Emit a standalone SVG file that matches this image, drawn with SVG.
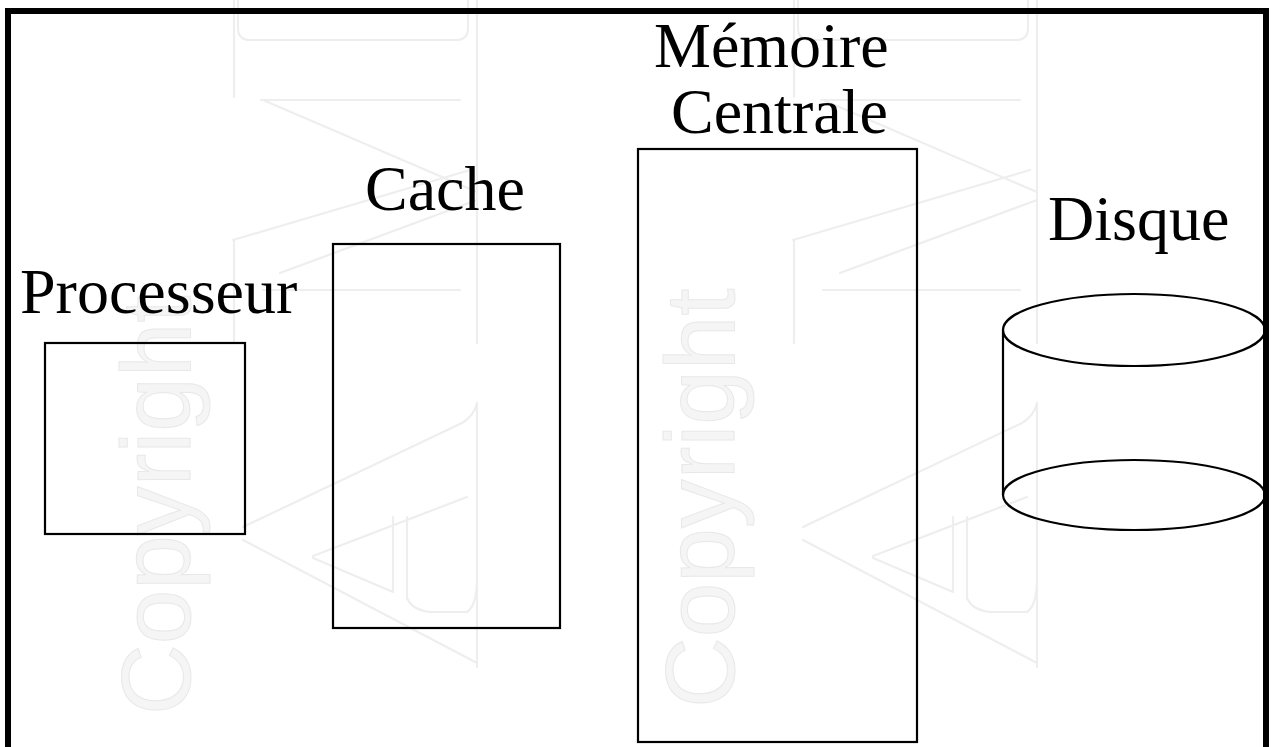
<svg xmlns="http://www.w3.org/2000/svg" width="1272" height="747" viewBox="0 0 1272 747">
<style>
.wm{fill:none;stroke:#eeeeee;stroke-width:2.2;stroke-linecap:round;stroke-linejoin:round}
.wmt{font-family:"Liberation Sans",Arial,sans-serif;font-size:98px;fill:#f5f5f5;stroke:#e8e8e8;stroke-width:1}
.box{fill:none;stroke:#000;stroke-width:2.2}
.lbl{font-family:"Liberation Serif","Times New Roman",serif;font-size:64px;fill:#000}
</style>
<defs>
<g id="logo">
<path class="wm" d="M477,0 L477,343 M477,403 L477,667 M234,0 L234,97 M234,240 L234,343"/>
<path class="wm" d="M238,0 L238,28 Q238,40 250,40 L456,40 Q468,40 468,28 L468,0"/>
<path class="wm" d="M261,100 L460,100 M263,290 L460,290"/>
<path class="wm" d="M263,100 L477,192 M233,240 L470,170 M280,273 L477,200"/>
<path class="wm" d="M243,527 L462,423 Q474,416 477,403 M313,556 L467,497 M243,540 L477,663 M313,558 L393,592"/>
<path class="wm" d="M393,517 L393,590 M407,517 L407,598 Q412,610 430,612 L467,612 Q476,606 477,583"/>
</g>
</defs>
<rect width="1272" height="747" fill="#fff"/>
<g id="watermark">
<use href="#logo"/>
<use href="#logo" transform="translate(560,0)"/>
<text class="wmt" transform="translate(190,715) rotate(-90)">Copyright</text>
<text class="wmt" transform="translate(734,708) rotate(-90)">Copyright</text>
</g>
<rect x="8" y="11" width="1258" height="760" fill="none" stroke="#000" stroke-width="6"/>
<g id="connectors"></g>
<g id="processeur">
<rect class="box" x="45" y="343" width="200" height="191"/>
<text class="lbl" x="20" y="313">Processeur</text>
</g>
<g id="cache">
<rect class="box" x="333" y="244" width="227" height="384"/>
<text class="lbl" x="365" y="210">Cache</text>
</g>
<g id="memoire">
<rect class="box" x="638" y="149" width="279" height="593"/>
<text class="lbl" x="654" y="67">Mémoire</text>
<text class="lbl" x="671" y="133">Centrale</text>
</g>
<g id="disque">
<path class="box" d="M1003,330 L1003,495 M1265,330 L1265,495"/>
<ellipse class="box" cx="1134" cy="495" rx="131" ry="35"/>
<ellipse class="box" cx="1134" cy="330" rx="131" ry="36"/>
<text class="lbl" x="1048" y="240">Disque</text>
</g>
</svg>
